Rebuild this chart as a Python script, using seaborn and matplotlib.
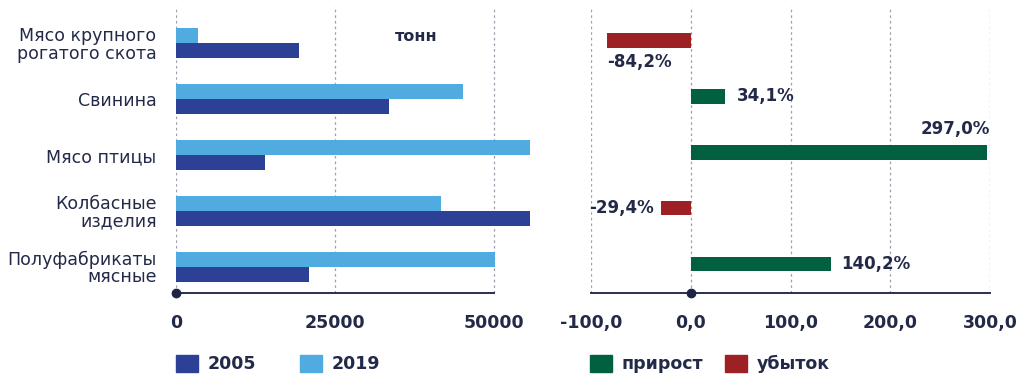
import pandas as pd
import matplotlib
matplotlib.use('Agg')
import matplotlib.pyplot as plt
from matplotlib.patches import Patch
from matplotlib.ticker import FuncFormatter
import seaborn as sns

# data
categories = ['Мясо крупного\nрогатого скота', 'Свинина', 'Мясо птицы',
              'Колбасные\nизделия', 'Полуфабрикаты\nмясные']
tons_2005 = [19400, 33500, 14000, 58900, 20900]
tons_2019 = [3400, 45100, 55700, 41600, 50200]
change_pct = [-84.2, 34.1, 297.0, -29.4, 140.2]
years = ['2005', '2019']
change_kinds = ['прирост', 'убыток']

DARK_BLUE = '#2c4195'
LIGHT_BLUE = '#50abe0'
GREEN = '#00603f'
RED = '#9c2024'
TXT = '#232948'
GRID = '#9a9eae'

sns.set_theme(style='white')
plt.rcParams['font.family'] = ['DejaVu Sans']
plt.rcParams['text.color'] = TXT

tons = pd.DataFrame({
    'cat': categories * 2,
    'year': ['2005'] * len(categories) + ['2019'] * len(categories),
    'value': tons_2005 + tons_2019,
})
growth = pd.DataFrame({
    'cat': categories,
    'value': change_pct,
    'kind': ['прирост' if v >= 0 else 'убыток' for v in change_pct],
})

fig = plt.figure(figsize=(10.24, 3.81), dpi=100)
ax1 = fig.add_axes([176 / 1024, 1 - 293 / 381, (530 - 176) / 1024, 287 / 381])
ax2 = fig.add_axes([591 / 1024, 1 - 293 / 381, (990 - 591) / 1024, 287 / 381])

# left: tonnes by year
sns.barplot(data=tons, y='cat', x='value', hue='year', hue_order=['2019', '2005'],
            palette={'2005': DARK_BLUE, '2019': LIGHT_BLUE}, orient='h',
            width=0.54, saturation=1, linewidth=0, ax=ax1, legend=False)
ax1.set_xlim(0, 55660)
ax1.set_ylim(4.47, -0.67)
ax1.set_xticks([0, 25000, 50000])
ax1.set_xticklabels(['0', '25000', '50000'])
ax1.text(37700, -0.13, 'тонн', ha='center', va='center', fontsize=11.5,
         fontweight='bold', color=TXT)

# right: change, %
sns.barplot(data=growth, y='cat', x='value', hue='kind', hue_order=change_kinds,
            palette={'прирост': GREEN, 'убыток': RED}, orient='h', dodge=False,
            width=0.26, saturation=1, linewidth=0, ax=ax2, legend=False)
ax2.set_xlim(-100, 300)
ax2.set_ylim(4.52, -0.62)
ax2.set_xticks([-100, 0, 100, 200, 300])
ax2.xaxis.set_major_formatter(FuncFormatter(lambda v, p: f'{v:.1f}'.replace('.', ',')))
ax2.set_yticks([])

label_pos = [  # (dx, dy in pixels, ha)
    (0, -21, 'left'),
    (12, 0, 'left'),
    (3, 23, 'right'),
    (-8, 0, 'right'),
    (11, 0, 'left'),
]
for i, v in enumerate(change_pct):
    dx, dy, ha = label_pos[i]
    ax2.annotate(f'{v:.1f}%'.replace('.', ','), xy=(v, i), xytext=(dx, dy),
                 textcoords='offset pixels', ha=ha, va='center',
                 fontsize=12, fontweight='bold', color=TXT)

for ax in (ax1, ax2):
    for s in ['top', 'left', 'right']:
        ax.spines[s].set_visible(False)
    ax.spines['bottom'].set_color('#2a2f52')
    ax.spines['bottom'].set_linewidth(1.4)
    ax.grid(axis='x', linestyle=(0, (2, 2.5)), color=GRID, linewidth=0.9)
    ax.grid(axis='y', visible=False)
    ax.set_axisbelow(True)
    ax.set_xlabel('')
    ax.set_ylabel('')
    ax.tick_params(axis='x', length=0, pad=15, labelsize=12.5, labelcolor=TXT)
    for t in ax.get_xticklabels():
        t.set_fontweight('bold')
    ax.plot([0], [0], transform=ax.get_xaxis_transform(), marker='o', ms=6,
            color='#1e2444', clip_on=False, zorder=5)

ax1.spines['bottom'].set_bounds(0, 50000)
ax1.tick_params(axis='y', length=0, pad=14, labelsize=12.5, labelcolor=TXT)
for t in ax1.get_yticklabels():
    t.set_linespacing(0.95)

# legends
leg_kw = dict(frameon=False, ncol=2, loc='center left', handlelength=1.25,
              handleheight=1.1, handletextpad=0.55, borderpad=0,
              columnspacing=2.55, borderaxespad=0,
              prop={'size': 12.5, 'weight': 'bold'})
fig.legend(handles=[Patch(color=DARK_BLUE, label=years[0]),
                    Patch(color=LIGHT_BLUE, label=years[1])],
           bbox_to_anchor=(176 / 1024, 1 - 364 / 381), labelcolor=TXT, **leg_kw)
leg_kw['columnspacing'] = 1.3
fig.legend(handles=[Patch(color=GREEN, label=change_kinds[0]),
                    Patch(color=RED, label=change_kinds[1])],
           bbox_to_anchor=(590 / 1024, 1 - 364 / 381), labelcolor=TXT, **leg_kw)

fig.savefig('out.png', dpi=100)
